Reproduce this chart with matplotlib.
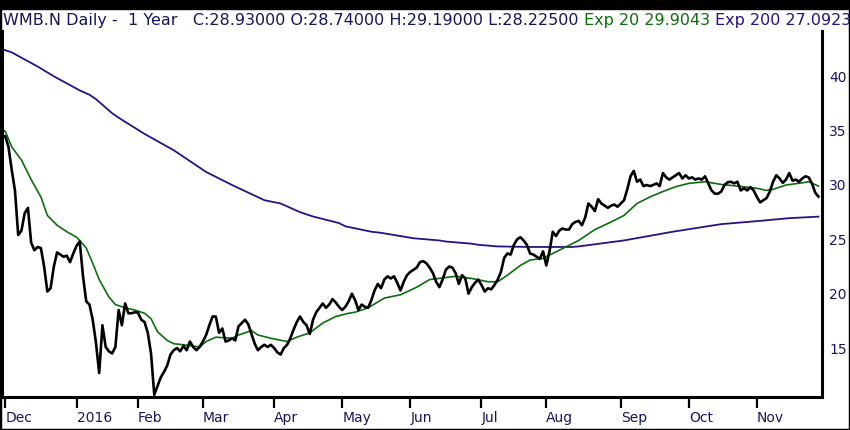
import numpy as np
import matplotlib
matplotlib.use('Agg')
import matplotlib.pyplot as plt
from matplotlib.patches import Rectangle

# daily closes, one per trading day starting Nov 30 2015 (day -1)
close_start = -1
close = [
    34.4, 34.5, 33.5, 31.4, 29.5, 25.4, 25.8, 27.4, 27.9, 24.7,
    24.0, 24.3, 24.2, 22.5, 20.2, 20.5, 22.5, 23.8, 23.6, 23.4,
    23.5, 22.9, 23.7, 24.4, 24.8, 21.6, 19.3, 19.0, 17.6, 15.5,
    12.7, 17.1, 15.1, 14.7, 14.5, 15.1, 18.5, 17.1, 19.1, 18.2,
    18.2, 18.3, 18.25, 17.6, 17.4, 16.4, 14.5, 10.7, 11.5, 12.3,
    12.8, 13.4, 14.4, 14.8, 15.0, 14.7, 15.2, 14.8, 15.6, 15.1,
    14.8, 15.1, 15.6, 16.2, 17.1, 17.9, 17.9, 16.4, 16.8, 15.6,
    15.7, 15.9, 15.7, 17.0, 17.3, 17.6, 17.2, 16.3, 15.4, 14.8,
    15.1, 15.3, 15.1, 15.3, 15.0, 14.6, 14.4, 15.0, 15.3, 15.9,
    16.7, 17.4, 17.9, 17.4, 17.1, 16.3, 17.6, 18.3, 18.7, 19.1,
    18.7, 19.0, 19.5, 19.2, 18.8, 18.5, 18.8, 19.3, 20.0, 19.4,
    18.5, 19.0, 18.8, 18.7, 19.4, 20.3, 20.9, 20.5, 21.3, 21.6,
    21.4, 21.6, 21.0, 20.3, 21.1, 21.7, 22.0, 22.2, 22.4, 22.9,
    23.0, 22.8, 22.4, 21.9, 21.1, 20.6, 21.3, 22.2, 22.5, 22.4,
    21.9, 20.9, 21.7, 21.4, 20.0, 20.6, 21.0, 21.3, 20.8, 20.2,
    20.5, 20.4, 20.8, 21.3, 22.0, 23.3, 23.7, 23.6, 24.5, 25.0,
    25.2, 24.9, 24.5, 23.7, 23.6, 23.4, 23.2, 23.9, 22.6, 23.9,
    25.7, 25.3, 25.8, 26.0, 25.9, 25.9, 26.4, 26.6, 26.7, 26.3,
    27.0, 28.3, 28.0, 27.6, 28.7, 28.3, 28.1, 27.9, 28.1, 28.2,
    28.0, 28.3, 28.6, 29.6, 30.8, 31.3, 30.3, 30.5, 29.9, 30.0,
    29.9, 30.0, 30.15, 29.9, 31.1, 30.7, 30.5, 30.7, 30.9, 31.1,
    30.6, 30.9, 30.6, 30.7, 30.5, 30.6, 30.5, 30.8, 30.15, 29.5,
    29.2, 29.2, 29.4, 30.0, 30.25, 30.3, 30.15, 30.3, 29.5, 29.7,
    29.5, 29.8, 29.5, 28.9, 28.4, 28.6, 28.8, 29.4, 30.3, 30.9,
    30.6, 30.2, 30.5, 31.1, 30.4, 30.5, 30.3, 30.6, 30.8, 30.7,
    30.15, 29.3, 28.93,
]

# exponential averages (trading day, value)
ema20_day = [-1, 0, 2, 5, 8, 11, 13, 16, 19, 22, 23, 25, 27, 29, 32, 34, 37, 40,
             43, 45, 47, 50, 52, 55, 60, 62, 65, 70, 72, 76, 78, 82, 87, 90, 94,
             98, 102, 106, 108, 112, 117, 122, 127, 131, 139, 144, 149, 152, 155,
             159, 162, 166, 169, 173, 177, 182, 187, 191, 195, 199, 203, 207, 211,
             216, 221, 226, 232, 235, 237, 241, 246, 248, 251]
ema20 = [35.06, 34.95, 33.5, 32.3, 30.5, 28.9, 27.2, 26.3, 25.7, 25.2, 24.9, 24.2,
         22.8, 21.3, 19.7, 19.0, 18.7, 18.5, 18.2, 17.7, 16.5, 15.7, 15.4, 15.3,
         15.1, 15.6, 16.0, 15.9, 16.2, 16.6, 16.2, 15.9, 15.6, 16.0, 16.4, 17.3,
         17.9, 18.2, 18.3, 18.7, 19.6, 19.9, 20.6, 21.3, 21.6, 21.4, 21.1, 21.1,
         21.7, 22.6, 23.1, 23.25, 23.7, 24.3, 24.9, 25.9, 26.6, 27.2, 28.3, 28.9,
         29.4, 29.85, 30.15, 30.3, 30.05, 29.9, 29.7, 29.5, 29.6, 30.0, 30.2,
         30.3, 29.9]

ema200_day = [-1, 2, 10, 15, 23, 26, 28, 33, 36, 43, 52, 56, 62, 70, 80, 85, 91,
              95, 103, 105, 113, 116, 124, 126, 134, 136, 144, 146, 152, 162, 171,
              175, 177, 191, 206, 221, 233, 242, 251]
ema200 = [42.5, 42.2, 40.9, 40.0, 38.7, 38.3, 37.9, 36.6, 36.0, 34.7, 33.2, 32.4,
          31.2, 30.0, 28.6, 28.3, 27.5, 27.1, 26.5, 26.2, 25.7, 25.6, 25.2, 25.1,
          24.9, 24.8, 24.6, 24.5, 24.35, 24.3, 24.3, 24.3, 24.35, 24.9, 25.7,
          26.4, 26.7, 26.95, 27.09]

month_day = [0, 22, 41, 61, 83, 104, 125, 147, 167, 190, 211, 232]
month_lbl = ['Dec', '2016', 'Feb', 'Mar', 'Apr', 'May', 'Jun', 'Jul', 'Aug',
             'Sep', 'Oct', 'Nov']
y_ticks = [15, 20, 25, 30, 35, 40]

hdr_main = 'WMB.N Daily -  1 Year   C:28.93000 O:28.74000 H:29.19000 L:28.22500 '
hdr_e20 = 'Exp 20 29.9043 '
hdr_e200 = 'Exp 200 27.0923'

NAVY = '#16165a'
GREEN = '#0b6e0b'
PURPLE = '#2c1080'

W, H = 850, 430
fig = plt.figure(figsize=(W / 100, H / 100), dpi=100)
fig.patch.set_facecolor('white')

# plot area in pixels: left 2, right 822, top 31, bottom 397
ax = fig.add_axes([2 / W, 1 - 397 / H, 820 / W, 366 / H])

days = np.arange(len(close)) + close_start
ax.plot(ema200_day, ema200, color=PURPLE, lw=1.3, solid_joinstyle='round')
ax.plot(ema20_day, ema20, color=GREEN, lw=1.2, solid_joinstyle='round')
ax.plot(days, close, color='black', lw=1.9, solid_joinstyle='round')

ax.set_xlim(-1.0, 252.1)
ax.set_ylim(30 - 212 / 10.87, 30 + 154 / 10.87)

for s in ['left', 'bottom', 'right']:
    ax.spines[s].set_linewidth(2.2)
    ax.spines[s].set_color('black')
ax.spines['top'].set_visible(False)

ax.yaxis.tick_right()
ax.set_yticks(y_ticks)
ax.tick_params(axis='y', length=0, pad=5, labelsize=10, labelcolor=NAVY)

ax.set_xticks(month_day)
ax.set_xticklabels(month_lbl)
ax.tick_params(axis='x', length=8, width=1.6, direction='out', color='black',
               pad=2, labelsize=10, labelcolor=NAVY)
for lbl in ax.get_xticklabels():
    lbl.set_horizontalalignment('left')

# outer frame
fig.patches.append(Rectangle((0, 1 - 9 / H), 1, 9 / H, transform=fig.transFigure,
                             color='black', zorder=10))
fig.patches.append(Rectangle((0, 0), 1, 1, transform=fig.transFigure, fill=False,
                             edgecolor='black', lw=2.5, zorder=10))

# header, fitted to the width of the picture
renderer = fig.canvas.get_renderer()
full = hdr_main + hdr_e20 + hdr_e200
probe = fig.text(0, 0, full, fontsize=10)
w10 = probe.get_window_extent(renderer).width
probe.remove()
fs = 10 * 843 / w10

def width_of(s):
    t = fig.text(0, 0, s + 'x', fontsize=fs)
    tx = fig.text(0, 0, 'x', fontsize=fs)
    w = t.get_window_extent(renderer).width - tx.get_window_extent(renderer).width
    t.remove()
    tx.remove()
    return w

x0 = 3
yb = 1 - 25 / H
fig.text(x0 / W, yb, hdr_main, fontsize=fs, color=NAVY, va='baseline')
x1 = x0 + width_of(hdr_main)
fig.text(x1 / W, yb, hdr_e20, fontsize=fs, color=GREEN, va='baseline')
x2 = x1 + width_of(hdr_e20)
fig.text(x2 / W, yb, hdr_e200, fontsize=fs, color=PURPLE, va='baseline')

fig.savefig('out.png', dpi=100)
